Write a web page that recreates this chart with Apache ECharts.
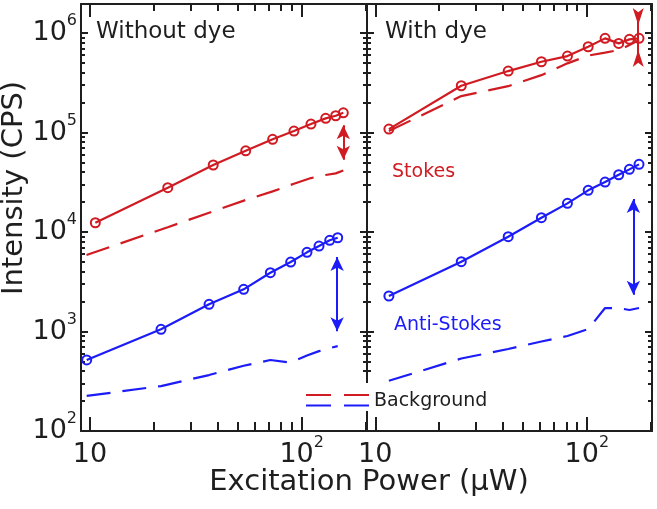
<!DOCTYPE html>
<html>
<head>
<meta charset="utf-8">
<script src="https://cdn.jsdelivr.net/npm/echarts@6/dist/echarts.min.js"></script>
<style>html,body{margin:0;padding:0;background:#fff}#c{width:657px;height:509px}</style>
</head>
<body>
<div id="c"></div>
<script>
// ---------- data ----------
// Left panel: without dye
const xStokesNoDye   = [10.6, 23.3, 38.2, 54.4, 72.9, 91.9, 110.6, 129.8, 144.7, 157.2];
const stokesNoDye    = [12400, 27900, 47200, 65600, 85500, 103500, 121700, 138900, 147500, 158100];
const xStokesBgNoDye = [9.63, 23.3, 38.2, 54.4, 72.9, 91.9, 110.6, 129.8, 144.7, 157.2];
const stokesBgNoDye  = [5870, 11190, 16140, 20990, 25620, 30610, 34890, 37410, 38900, 41500];
const xAntiNoDye     = [9.65, 21.65, 36.5, 53.2, 71.1, 88.7, 105.9, 120.7, 135.6, 147.9];
const antiNoDye      = [518, 1052, 1877, 2655, 3900, 4994, 6252, 7233, 8254, 8764];
const antiBgNoDye    = [225, 283, 365, 453, 517, 488, 573, 635, 682, 714];
// Right panel: with dye
const xDye           = [11.6, 25.5, 42.5, 61, 81, 101.5, 122, 141.5, 159, 176.5];
const stokesDye      = [108400, 295400, 415000, 514800, 587400, 728500, 884600, 787700, 864500, 884600];
const stokesBgDye    = [103500, 232700, 292600, 377600, 496000, 594000, 636900, 674500, 757000, 851000];
const antiDye        = [2275, 5030, 8970, 13930, 19430, 26240, 31800, 37670, 42660, 47900];
const antiBgDye      = [320, 535, 667, 793, 902, 1060, 1722, 1722, 1644, 1722];
// arrows: [x, yFrom, yTo]
const arrowStokesNoDye = [157.2, 118100, 53280];
const arrowAntiNoDye   = [147, 5608, 1005];
const arrowAntiDye     = [166, 21470, 2344];
const arrowStokesDye   = [175, 1465000, 554000];
// ticks
const xMajor = [10, 100];
const xMinor = [20, 30, 40, 50, 60, 70, 80, 90, 200];
const yMajor = [1e2, 1e3, 1e4, 1e5, 1e6];
const yMinor = [200, 300, 400, 500, 600, 700, 800, 900,
                2000, 3000, 4000, 5000, 6000, 7000, 8000, 9000,
                2e4, 3e4, 4e4, 5e4, 6e4, 7e4, 8e4, 9e4,
                2e5, 3e5, 4e5, 5e5, 6e5, 7e5, 8e5, 9e5];
const panelTitles = ['Without dye', 'With dye'];
const xTitle = 'Excitation Power (µW)';
const yTitle = 'Intensity (CPS)';

// ---------- style ----------
const RED = '#d01b22', BLUE = '#1c1cf8', INK = '#1e1e1e';
const FONT = 'DejaVu Sans';
const xRangeL = [9.07, 203.4], xRangeR = [9.14, 203.3], yRange = [100, 1.96e6];

const RICH = {
  b: { fontFamily: FONT, fontSize: 27, lineHeight: 40, color: INK },
  s: { fontFamily: FONT, fontSize: 16, lineHeight: 22, verticalAlign: 'top', color: INK }
};
const fmtX = v => { const e = Math.round(Math.log10(v)); return e === 1 ? '{b|10}' : '{b|10}{s|' + e + '}'; };
const fmtY = v => '{b|10}{s|' + Math.round(Math.log10(v)) + '}';

function makeAxis(gi, range, pos, o) {
  const a = {
    type: 'log', logBase: 10, gridIndex: gi, min: range[0], max: range[1], position: pos, silent: true,
    splitLine: { show: false }, minorTick: { show: false },
    axisLine: { show: !!o.line, onZero: false, lineStyle: { color: INK, width: 2 } },
    axisTick: { show: true, inside: true, length: o.len, customValues: o.ticks, lineStyle: { color: INK, width: 2 } },
    axisLabel: { show: !!o.labels }
  };
  if (o.labels) Object.assign(a.axisLabel, { customValues: o.ticks, formatter: o.fmt, margin: 4, fontFamily: FONT, rich: RICH });
  return a;
}

const xAxis = [
  makeAxis(0, xRangeL, 'bottom', { line: true, len: 14, ticks: xMajor, labels: true, fmt: fmtX }),
  makeAxis(1, xRangeR, 'bottom', { line: true, len: 14, ticks: xMajor, labels: true, fmt: fmtX }),
  makeAxis(0, xRangeL, 'bottom', { len: 9, ticks: xMinor }),
  makeAxis(0, xRangeL, 'top', { line: true, len: 13, ticks: xMajor }),
  makeAxis(0, xRangeL, 'top', { len: 7, ticks: xMinor }),
  makeAxis(1, xRangeR, 'bottom', { len: 9, ticks: xMinor }),
  makeAxis(1, xRangeR, 'top', { line: true, len: 13, ticks: xMajor }),
  makeAxis(1, xRangeR, 'top', { len: 7, ticks: xMinor })
];
const yAxis = [
  makeAxis(0, yRange, 'left', { line: true, len: 7, ticks: yMajor, labels: true, fmt: fmtY }),
  makeAxis(1, yRange, 'left', { line: true, len: 7, ticks: yMajor }),
  makeAxis(0, yRange, 'left', { len: 4, ticks: yMinor }),
  makeAxis(0, yRange, 'right', { line: true, len: 7, ticks: yMajor }),
  makeAxis(0, yRange, 'right', { len: 4, ticks: yMinor }),
  makeAxis(1, yRange, 'left', { len: 4, ticks: yMinor }),
  makeAxis(1, yRange, 'right', { line: true, len: 7, ticks: yMajor }),
  makeAxis(1, yRange, 'right', { len: 4, ticks: yMinor })
];

const zip = (xs, ys) => xs.map((x, i) => [x, ys[i]]);
const INWARD = 'path://M0,10 L6.67,0 L0,2.5 L-6.67,0 Z';

function arrowLine(a, color, sym) {
  return {
    silent: true, animation: false,
    lineStyle: { color, width: 2, type: 'solid' },
    label: { show: false }, emphasis: { disabled: true },
    data: [[
      { coord: [a[0], a[1]], symbol: sym, symbolSize: sym === 'arrow' ? [10, 14] : [11, 17] },
      { coord: [a[0], a[2]], symbol: sym, symbolSize: sym === 'arrow' ? [10, 14] : [11, 17] }
    ]]
  };
}
function solid(name, gi, xs, ys, color, arrow, sym) {
  return {
    name, type: 'line', xAxisIndex: gi, yAxisIndex: gi, data: zip(xs, ys), color,
    symbol: 'circle', symbolSize: 9, showAllSymbol: true,
    itemStyle: { color: 'rgba(255,255,255,0)', borderColor: color, borderWidth: 2 },
    lineStyle: { color, width: 2.2 }, emphasis: { disabled: true }, z: 3,
    markLine: arrowLine(arrow, color, sym || 'arrow')
  };
}
function dashed(name, gi, xs, ys, color) {
  return {
    name, type: 'line', xAxisIndex: gi, yAxisIndex: gi, data: zip(xs, ys), color,
    symbol: 'none', lineStyle: { color, width: 2.2, type: [24, 12] }, emphasis: { disabled: true }, z: 2
  };
}

const series = [
  solid('Stokes', 0, xStokesNoDye, stokesNoDye, RED, arrowStokesNoDye),
  dashed('Stokes background', 0, xStokesBgNoDye, stokesBgNoDye, RED),
  solid('Anti-Stokes', 0, xAntiNoDye, antiNoDye, BLUE, arrowAntiNoDye),
  dashed('Anti-Stokes background', 0, xAntiNoDye, antiBgNoDye, BLUE),
  solid('Stokes', 1, xDye, stokesDye, RED, arrowStokesDye, INWARD),
  dashed('Stokes background', 1, xDye, stokesBgDye, RED),
  solid('Anti-Stokes', 1, xDye, antiDye, BLUE, arrowAntiDye),
  dashed('Anti-Stokes background', 1, xDye, antiBgDye, BLUE)
];

const txt = (text, x, y, size, color) => ({
  type: 'text', x, y, z: 100, silent: true,
  style: { text, fill: color, font: size + 'px "' + FONT + '"', textAlign: 'left', textVerticalAlign: 'top' }
});

const noSymbol = { color: 'rgba(0,0,0,0)', borderWidth: 0, opacity: 0 };

const option = {
  animation: false,
  backgroundColor: '#fff',
  grid: [
    { left: 81, top: 4, width: 286, height: 427 },
    { left: 367, top: 4, width: 285, height: 427 }
  ],
  xAxis, yAxis, series,
  legend: [
    {
      data: ['Anti-Stokes background'], left: 300, top: 383, orient: 'horizontal',
      itemWidth: 63, itemHeight: 4, padding: [9, 6, 0, 5], backgroundColor: '#fff',
      selectedMode: false, z: 5,
      formatter: () => '{t|Background}',
      itemStyle: noSymbol,
      lineStyle: { type: [25, 13], width: 2 },
      textStyle: { fontFamily: FONT, fontSize: 19, color: INK,
        rich: { t: { fontFamily: FONT, fontSize: 19, color: INK, padding: [0, 0, 8, 0] } } }
    },
    {
      data: ['Stokes background'], left: 300, top: 393, orient: 'horizontal',
      itemWidth: 63, itemHeight: 4, padding: [0, 0, 0, 5],
      selectedMode: false, z: 6,
      formatter: () => '',
      itemStyle: noSymbol,
      lineStyle: { type: [25, 13], width: 2 },
      textStyle: { fontSize: 1 }
    }
  ],
  graphic: [
    txt(panelTitles[0], 96, 21, 23, INK),
    txt(panelTitles[1], 385, 21, 23, INK),
    txt('Stokes', 392, 163, 19, RED),
    txt('Anti-Stokes', 394, 316, 19, BLUE),
    { type: 'text', x: 369, y: 482, z: 100, silent: true,
      style: { text: xTitle, fill: INK, font: '29px "' + FONT + '"', textAlign: 'center', textVerticalAlign: 'middle' } },
    { type: 'text', x: 14, y: 188, rotation: Math.PI / 2, z: 100, silent: true,
      style: { text: yTitle, fill: INK, font: '29px "' + FONT + '"', textAlign: 'center', textVerticalAlign: 'middle' } }
  ]
};

const chart = echarts.init(document.getElementById('c'), null, { renderer: 'canvas' });
chart.setOption(option);
</script>
</body>
</html>
